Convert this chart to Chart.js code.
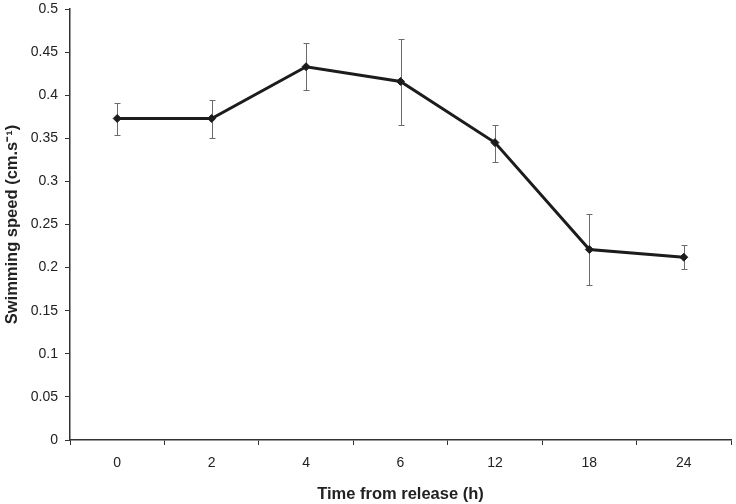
<!DOCTYPE html>
<html>
<head>
<meta charset="utf-8">
<script src="https://cdn.jsdelivr.net/npm/chart.js@4/dist/chart.umd.min.js"></script>
<style>
html,body{margin:0;padding:0;background:#fff;}
#wrap{width:736px;height:504px;position:relative;}
</style>
</head>
<body>
<div id="wrap"><canvas id="c" width="736" height="504"></canvas></div>
<script>
const categories = ["0", "2", "4", "6", "12", "18", "24"];
const speedMean = [0.373, 0.373, 0.433, 0.416, 0.345, 0.221, 0.212];
const errUpper = [0.391, 0.395, 0.460, 0.465, 0.366, 0.262, 0.226];
const errLower = [0.354, 0.350, 0.406, 0.365, 0.323, 0.180, 0.198];
const yTicks = [0, 0.05, 0.1, 0.15, 0.2, 0.25, 0.3, 0.35, 0.4, 0.45, 0.5];

const errorBars = {
  id: 'errorBars',
  beforeDatasetsDraw(chart) {
    const ctx = chart.ctx, xs = chart.scales.x, ys = chart.scales.y;
    ctx.save();
    ctx.strokeStyle = '#6b6b6b';
    ctx.lineWidth = 1;
    for (let i = 0; i < categories.length; i++) {
      const x = Math.round(xs.getPixelForValue(i)) + 0.5;
      const yt = Math.round(ys.getPixelForValue(errUpper[i])) + 0.5;
      const yb = Math.round(ys.getPixelForValue(errLower[i])) + 0.5;
      ctx.beginPath();
      ctx.moveTo(x, yt); ctx.lineTo(x, yb);
      ctx.moveTo(x - 3, yt); ctx.lineTo(x + 3, yt);
      ctx.moveTo(x - 3, yb); ctx.lineTo(x + 3, yb);
      ctx.stroke();
    }
    ctx.restore();
  }
};

const font = "'Liberation Sans', Arial, sans-serif";
new Chart(document.getElementById('c'), {
  type: 'line',
  data: {
    labels: categories,
    datasets: [{
      data: speedMean,
      borderColor: '#1c1c1c',
      backgroundColor: '#1c1c1c',
      borderWidth: 3,
      pointStyle: 'rectRot',
      pointRadius: 4,
      pointBorderWidth: 1,
      tension: 0,
      fill: false
    }]
  },
  options: {
    responsive: false,
    animation: false,
    devicePixelRatio: 1,
    layout: { padding: { top: 9, right: 3, left: 0, bottom: 0 } },
    plugins: { legend: { display: false }, tooltip: { enabled: false } },
    scales: {
      x: {
        type: 'category',
        offset: true,
        grid: { display: true, drawOnChartArea: false, drawTicks: true, tickLength: 5, offset: true, color: '#333', lineWidth: 1 },
        border: { display: true, color: '#333', width: 1.5 },
        ticks: { color: '#222', font: { family: font, size: 14 }, padding: 10, maxRotation: 0 },
        title: { display: true, text: 'Time from release (h)', color: '#222', font: { family: font, size: 16.5, weight: 'bold' }, padding: { top: 4, bottom: 0 } },
        afterFit(s) { s.height = 64; s.paddingLeft = 0; s.paddingRight = 0; }
      },
      y: {
        min: 0, max: 0.5,
        afterBuildTicks(s) { s.ticks = yTicks.map(v => ({ value: v })); },
        grid: { display: true, drawOnChartArea: false, drawTicks: true, tickLength: 5, color: '#333', lineWidth: 1 },
        border: { display: true, color: '#333', width: 1.5 },
        ticks: { color: '#222', font: { family: font, size: 14 }, padding: 7, callback: v => String(v) },
        title: { display: true, text: 'Swimming speed (cm.s\u207B\u00B9)', color: '#222', font: { family: font, size: 16.5, weight: 'bold' }, padding: { top: 3, bottom: 0 } },
        afterFit(s) { s.width = 70; s.paddingTop = 0; s.paddingBottom = 0; }
      }
    }
  },
  plugins: [errorBars]
});
</script>
</body>
</html>
